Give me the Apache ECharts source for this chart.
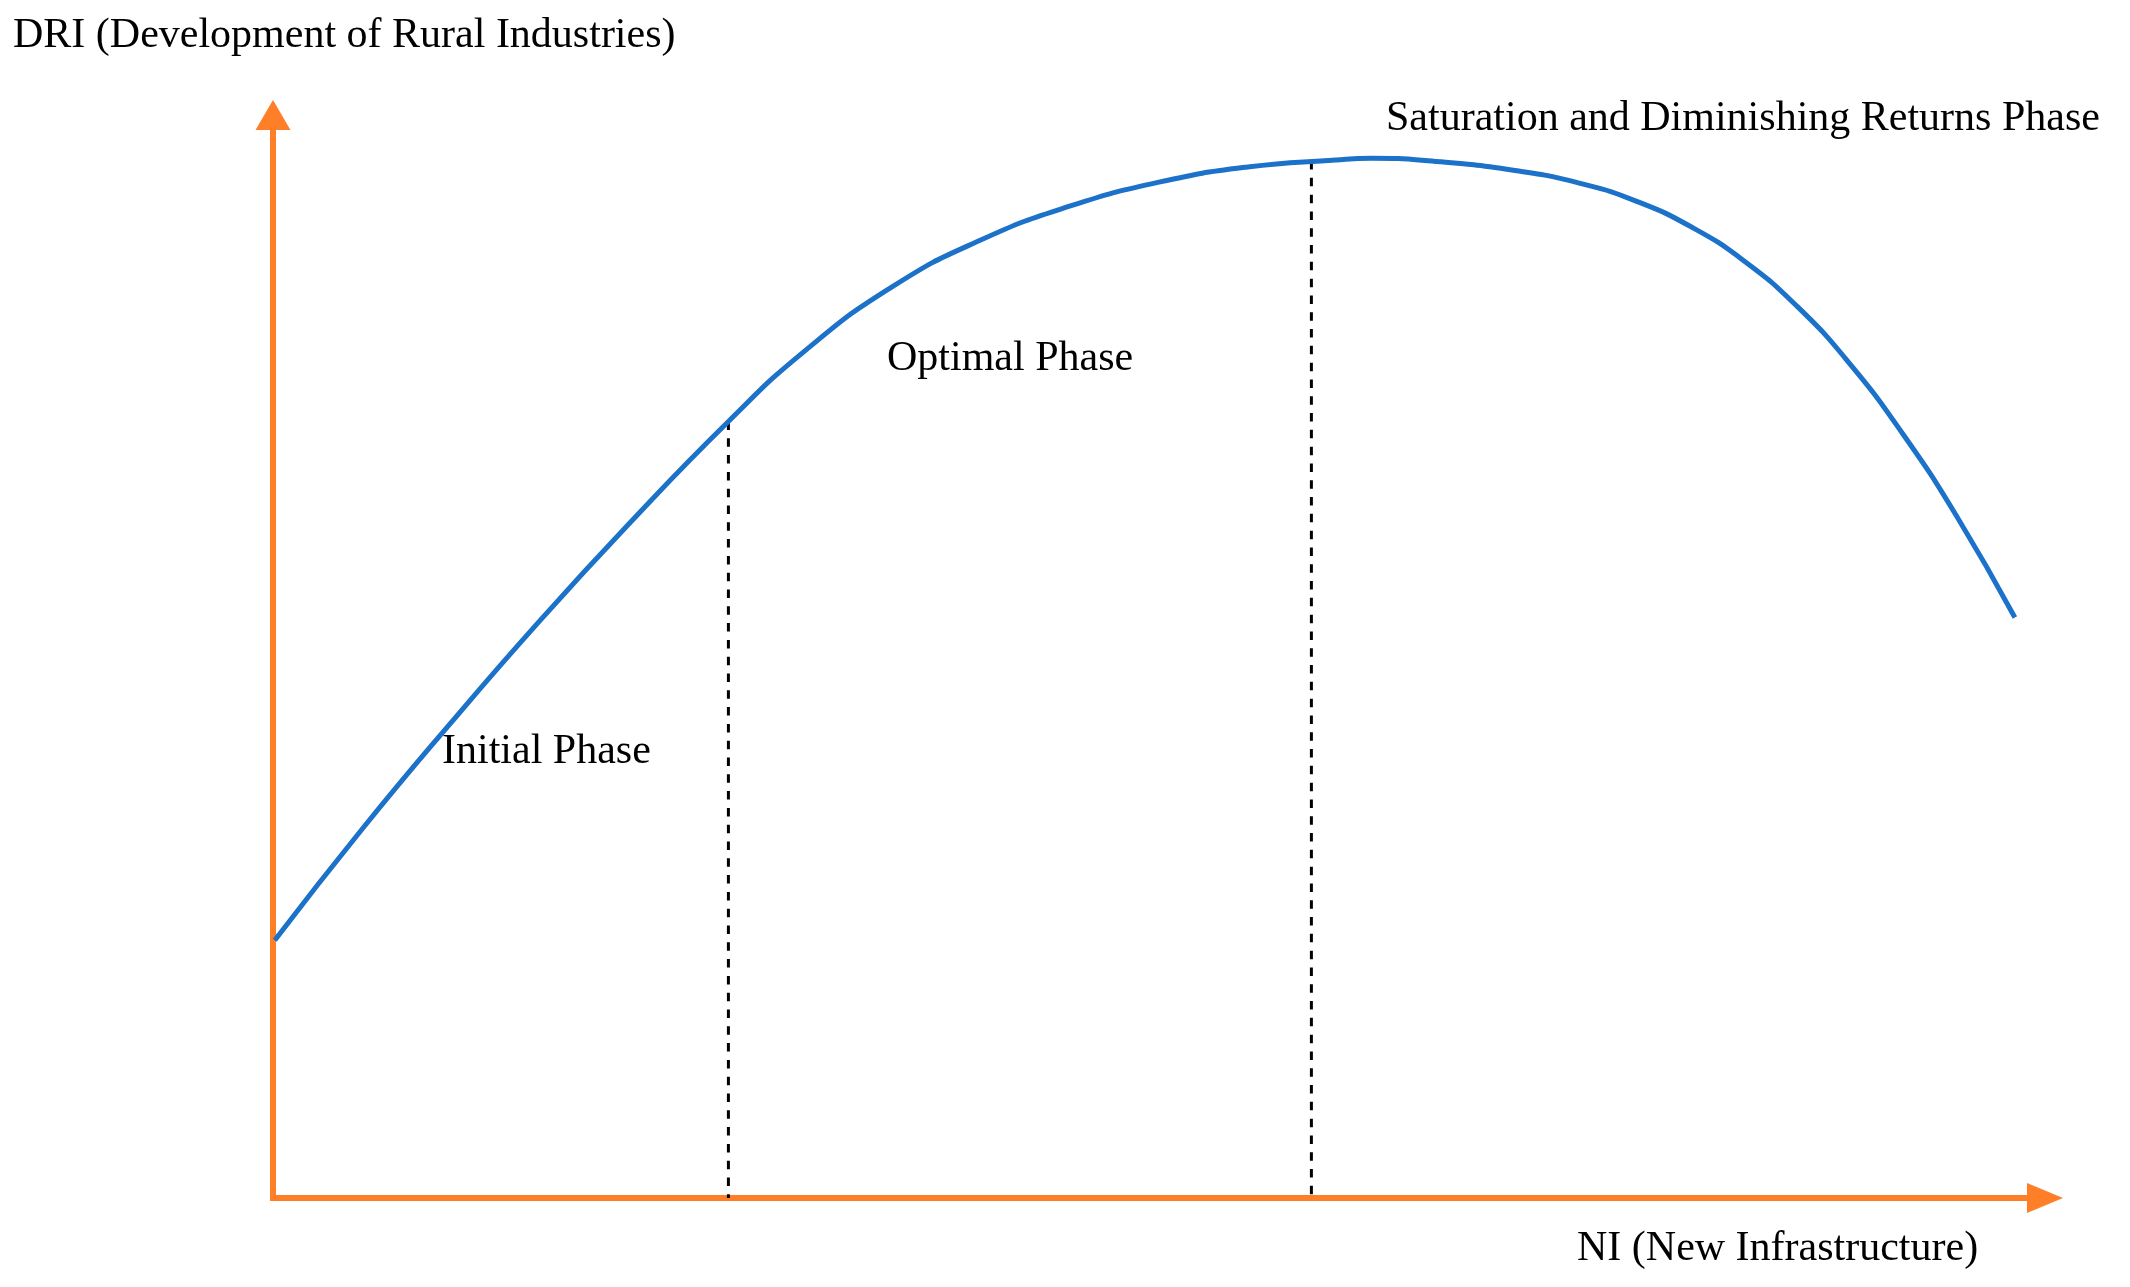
<!DOCTYPE html>
<html>
<head>
<meta charset="utf-8">
<title>NI vs DRI phases</title>
<script src="https://cdn.jsdelivr.net/npm/echarts@6/dist/echarts.min.js"></script>
<style>
  html, body { margin: 0; padding: 0; background: #fff; }
  #chart { width: 2130px; height: 1287px; }
</style>
</head>
<body>
<div id="chart"></div>
<script>
// curve: NI (x) against DRI (y), both on a 0-100 scale
const niValues = [0.1, 5, 10, 15, 20, 25.7, 30, 35, 40, 45, 50, 55, 60, 62,
  65, 70, 74, 77, 80, 83, 86, 89, 92, 95, 98.3]
const driValues = [23.8, 34.0, 43.8, 53.2, 62.1, 71.7, 78.2, 84.2, 88.5, 91.6, 93.8, 95.2, 95.85, 96.0,
  95.8, 94.9, 93.6, 92.0, 89.7, 86.55, 82.35, 77.0, 70.5, 63.0, 53.6]

// phase boundaries (dashed lines)
const dividerNI = [25.7, 58.6]
const dividerDRI = [71.7, 95.75]

const phaseNames = ['Initial Phase', 'Optimal Phase', 'Saturation and Diminishing Returns Phase']
const xAxisTitle = 'NI (New Infrastructure)'
const yAxisTitle = 'DRI (Development of Rural Industries)'

const ORANGE = '#fe7f27'
const BLUE = '#1b72c8'
const FONT = '42px "Liberation Serif", "Times New Roman", serif'

const chart = echarts.init(document.getElementById('chart'))

const curveData = niValues.map((x, i) => [x, driValues[i]])

const dividerSeries = dividerNI.map((x, i) => ({
  type: 'line',
  data: [[x, dividerDRI[i]], [x, 0]],
  showSymbol: false,
  silent: true,
  z: 1,
  lineStyle: { color: '#000', width: 3, type: [8.5, 8.3] }
}))

const textItem = (text, x, y) => ({
  type: 'text',
  x: x,
  y: y,
  silent: true,
  style: { text: text, font: FONT, fill: '#000', align: 'left', verticalAlign: 'middle' }
})

const option = {
  animation: false,
  backgroundColor: '#fff',
  grid: { left: 273, right: 85, top: 115, bottom: 89 },
  xAxis: {
    type: 'value',
    min: 0,
    max: 100,
    axisLine: {
      show: true,
      symbol: ['none', 'triangle'],
      symbolSize: [30, 36],
      lineStyle: { color: ORANGE, width: 6, cap: 'square' }
    },
    axisTick: { show: false },
    axisLabel: { show: false },
    splitLine: { show: false }
  },
  yAxis: {
    type: 'value',
    min: 0,
    max: 100,
    axisLine: {
      show: true,
      symbol: ['none', 'triangle'],
      symbolSize: [35, 30],
      lineStyle: { color: ORANGE, width: 6, cap: 'square' }
    },
    axisTick: { show: false },
    axisLabel: { show: false },
    splitLine: { show: false }
  },
  series: [
    {
      type: 'line',
      data: curveData,
      smooth: 0.5,
      showSymbol: false,
      z: 3,
      lineStyle: { color: BLUE, width: 5 }
    },
    ...dividerSeries
  ],
  graphic: [
    textItem(yAxisTitle, 13, 36),
    textItem(phaseNames[2], 1386, 119),
    textItem(phaseNames[1], 887, 359),
    textItem(phaseNames[0], 442, 752),
    textItem(xAxisTitle, 1577, 1249)
  ]
}

chart.setOption(option)
</script>
</body>
</html>
